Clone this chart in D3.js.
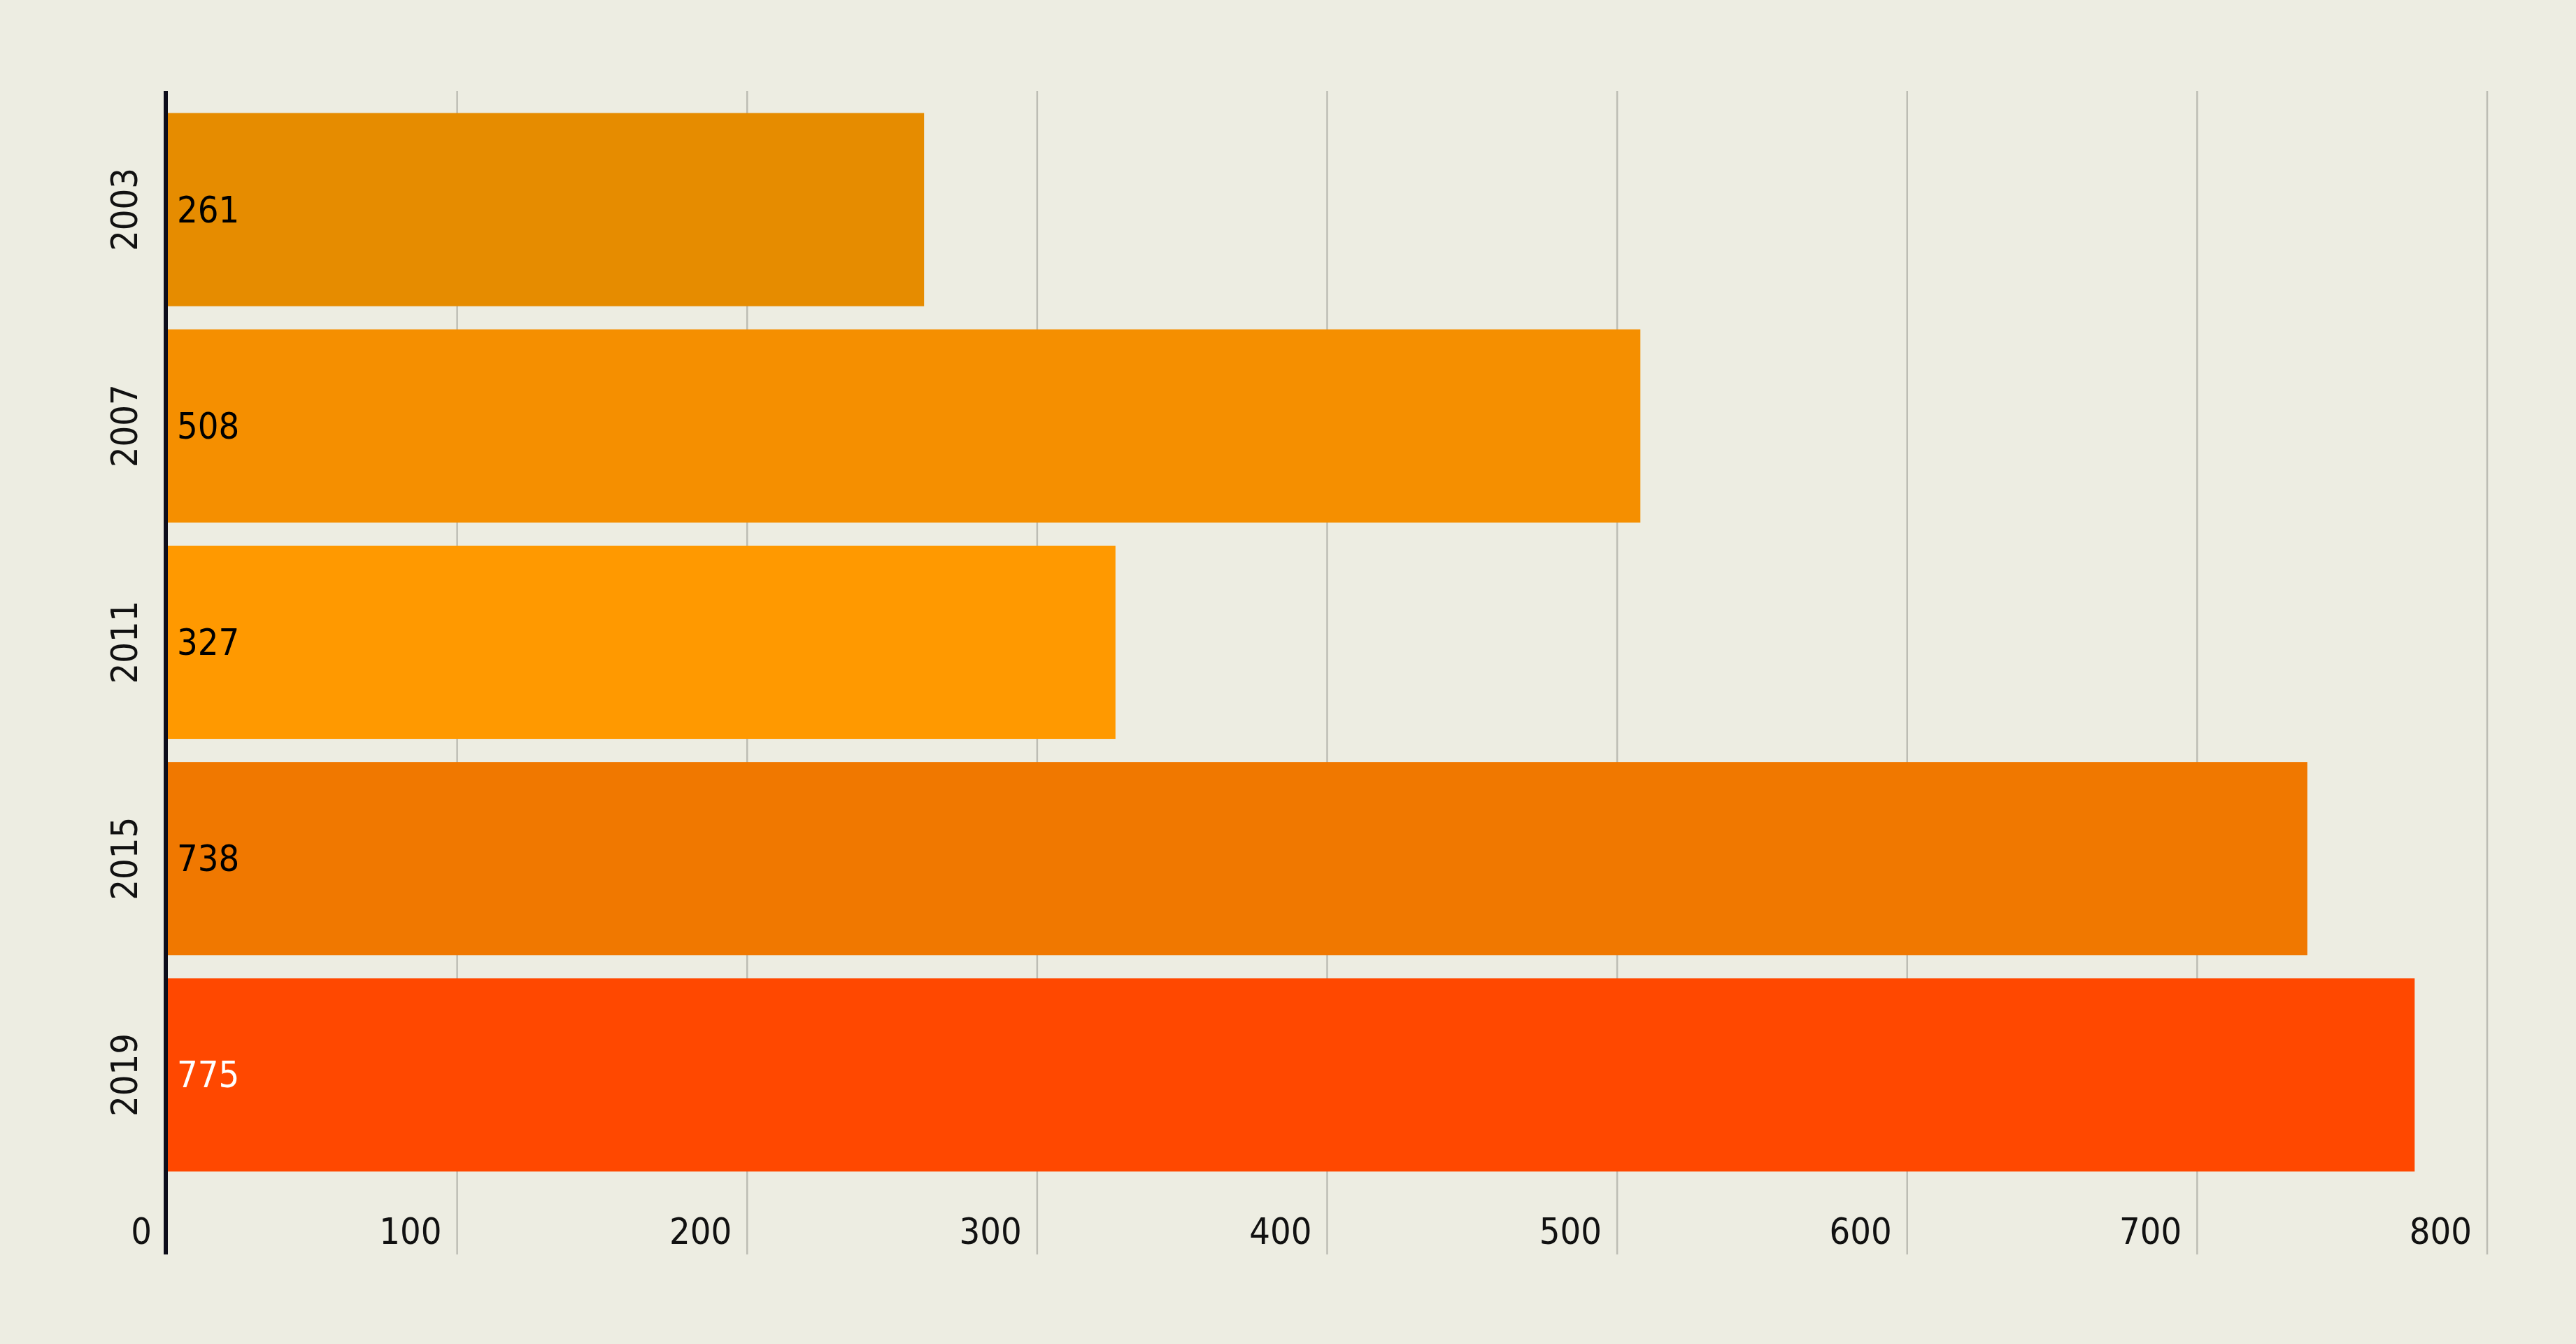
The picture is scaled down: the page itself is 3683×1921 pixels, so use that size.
<!DOCTYPE html>
<html>
<head>
<meta charset="utf-8">
<script src="https://cdn.jsdelivr.net/npm/d3@7"></script>
<style>
  html, body { margin: 0; padding: 0; background: #EDEDE2; }
  svg { display: block; }
  text { font-family: "DejaVu Sans Condensed", "DejaVu Sans", sans-serif; }
</style>
</head>
<body>
<svg id="chart" width="3683" height="1921"></svg>
<script>
const categories = ["2003", "2007", "2011", "2015", "2019"];
const values = [261, 508, 327, 738, 775];
const barColors = ["#E68C00", "#F58F00", "#FF9900", "#F07800", "#FF4800"];
const labelColors = ["#000000", "#000000", "#000000", "#000000", "#FFFFFF"];
const xTicks = [0, 100, 200, 300, 400, 500, 600, 700, 800];

const W = 3683, H = 1921;
const svg = d3.select("#chart");
svg.append("rect").attr("width", W).attr("height", H).attr("fill", "#EDEDE2");

const x = d3.scaleLinear().domain([0, 800]).range([239, 3556]);
const y = d3.scaleBand().domain(categories).range([145, 1691]).paddingInner(0.107).paddingOuter(0.0535);

const axisTop = 130, axisBottom = 1793;
const fontSize = 52;

// gridlines
svg.append("g").selectAll("line")
  .data(xTicks.filter(d => d > 0))
  .join("line")
  .attr("x1", d => x(d)).attr("x2", d => x(d))
  .attr("y1", axisTop).attr("y2", axisBottom)
  .attr("stroke", "#BDBDB4").attr("stroke-width", 2.5);

// bars
const data = categories.map((c, i) => ({ c, v: values[i], color: barColors[i], lc: labelColors[i] }));
svg.append("g").selectAll("rect")
  .data(data)
  .join("rect")
  .attr("x", x(0))
  .attr("y", d => y(d.c))
  .attr("width", d => x(d.v) - x(0))
  .attr("height", y.bandwidth())
  .attr("fill", d => d.color);

// bar value labels
svg.append("g").selectAll("text")
  .data(data)
  .join("text")
  .attr("x", x(0) + 14)
  .attr("y", d => y(d.c) + y.bandwidth() / 2)
  .attr("dominant-baseline", "central")
  .attr("font-size", fontSize)
  .attr("fill", d => d.lc)
  .text(d => d.v);

// x tick labels
svg.append("g").selectAll("text")
  .data(xTicks)
  .join("text")
  .attr("x", d => x(d) - 22)
  .attr("y", 1760)
  .attr("dominant-baseline", "central")
  .attr("text-anchor", "end")
  .attr("font-size", fontSize)
  .attr("fill", "#111")
  .text(d => d);

// y category labels (rotated)
svg.append("g").selectAll("text")
  .data(categories)
  .join("text")
  .attr("transform", d => `translate(178, ${y(d) + y.bandwidth() / 2}) rotate(-90)`)
  .attr("text-anchor", "middle")
  .attr("dominant-baseline", "central")
  .attr("font-size", fontSize)
  .attr("fill", "#111")
  .text(d => d);

// y axis line
svg.append("line")
  .attr("x1", 237).attr("x2", 237)
  .attr("y1", axisTop).attr("y2", axisBottom)
  .attr("stroke", "#0D0D1A").attr("stroke-width", 6);
</script>
</body>
</html>
